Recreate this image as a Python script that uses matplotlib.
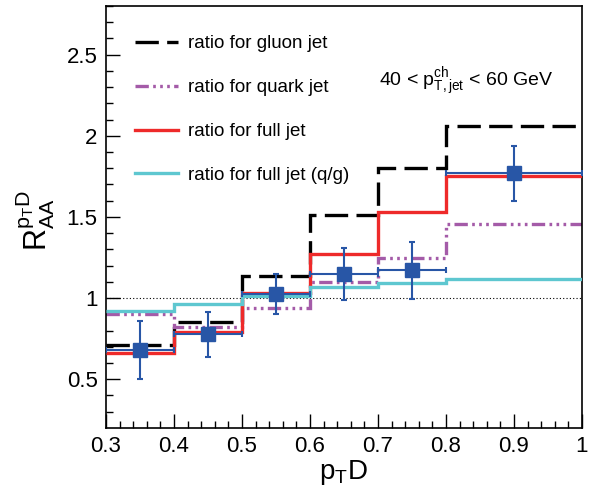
import numpy as np
import matplotlib
matplotlib.use("Agg")
from matplotlib import pyplot as plt

plt.rcParams['font.family'] = ['Liberation Sans', 'DejaVu Sans']
plt.rcParams['mathtext.fontset'] = 'custom'
plt.rcParams['mathtext.rm'] = 'Liberation Sans'
plt.rcParams['mathtext.it'] = 'Liberation Sans'

# bin edges in p_T D
edges = np.array([0.3, 0.4, 0.5, 0.6, 0.7, 0.8, 1.0])

# ratios
gluon = [0.71, 0.85, 1.135, 1.51, 1.80, 2.06]
quark = [0.90, 0.82, 0.94, 1.10, 1.25, 1.455]
full = [0.66, 0.79, 1.03, 1.27, 1.53, 1.755]
full_qg = [0.92, 0.963, 1.015, 1.07, 1.095, 1.115]

# data points
x_data = [0.35, 0.45, 0.55, 0.65, 0.75, 0.9]
x_err = [0.05, 0.05, 0.05, 0.05, 0.05, 0.1]
y_data = [0.68, 0.777, 1.025, 1.147, 1.17, 1.77]
y_err = [0.18, 0.14, 0.125, 0.16, 0.175, 0.17]

fig = plt.figure(figsize=(6.04, 4.97), dpi=100)
ax = fig.add_axes([0.1755, 0.139, 0.788, 0.849])

ax.axhline(1.0, color="black", lw=0.8, ls=(0, (1, 2)), zorder=1)

l_g = ax.stairs(gluon, edges, baseline=None, color="black", lw=2.4,
                label="ratio for gluon jet", zorder=2)
l_g.set_linestyle((0, (7, 2.5)))
l_q = ax.stairs(quark, edges, baseline=None, color="#a45ba8", lw=2.4,
                label="ratio for quark jet", zorder=2)
l_q.set_linestyle((0, (4, 1.3, 0.8, 1.3, 0.8, 1.3, 0.8, 1.3)))
ax.stairs(full, edges, baseline=None, color="#ee2a2a", lw=2.4,
          label="ratio for full jet", zorder=3)
ax.stairs(full_qg, edges, baseline=None, color="#5ec7d0", lw=2.4,
          label="ratio for full jet (q/g)", zorder=3)

ax.errorbar(x_data, y_data, yerr=y_err, xerr=x_err, fmt="s", color="#2856a6",
            ms=10, lw=1.5, capsize=2.5, capthick=1.5, zorder=5)

ax.set_xlim(0.3, 1.0)
ax.set_ylim(0.2, 2.8)
ax.set_xticks([0.3, 0.4, 0.5, 0.6, 0.7, 0.8, 0.9, 1.0])
ax.set_xticklabels(["0.3", "0.4", "0.5", "0.6", "0.7", "0.8", "0.9", "1"])
ax.set_xticks(np.arange(0.3, 1.0001, 0.02), minor=True)
ax.set_yticks([0.5, 1.0, 1.5, 2.0, 2.5])
ax.set_yticklabels(["0.5", "1", "1.5", "2", "2.5"])
ax.set_yticks(np.arange(0.3, 2.801, 0.1), minor=True)
ax.tick_params(which="both", direction="in", top=False, right=False,
               labelsize=16, width=1)
ax.tick_params(which="major", length=10, pad=6)
ax.tick_params(which="minor", length=5)
for s in ax.spines.values():
    s.set_linewidth(1.2)

ax.set_xlabel(r"$\mathregular{p_{T}D}$", fontsize=20)
ax.xaxis.set_label_coords(0.5, -0.072)
ax.set_ylabel(r"$\mathregular{R_{AA}^{p_{T}D}}$", fontsize=22)
ax.yaxis.set_label_coords(-0.103, 0.49)

ax.legend(loc="upper left", bbox_to_anchor=(0.061, 0.931), frameon=False,
          fontsize=13.5, handlelength=2.3, labelspacing=1.43,
          handletextpad=0.5, borderaxespad=0, borderpad=0)

ax.text(0.5735, 0.82, r"40 < $\mathregular{p^{ch}_{T,jet}}$ < 60 GeV",
        transform=ax.transAxes, fontsize=14, va="center")

fig.savefig("out.png", dpi=100)
